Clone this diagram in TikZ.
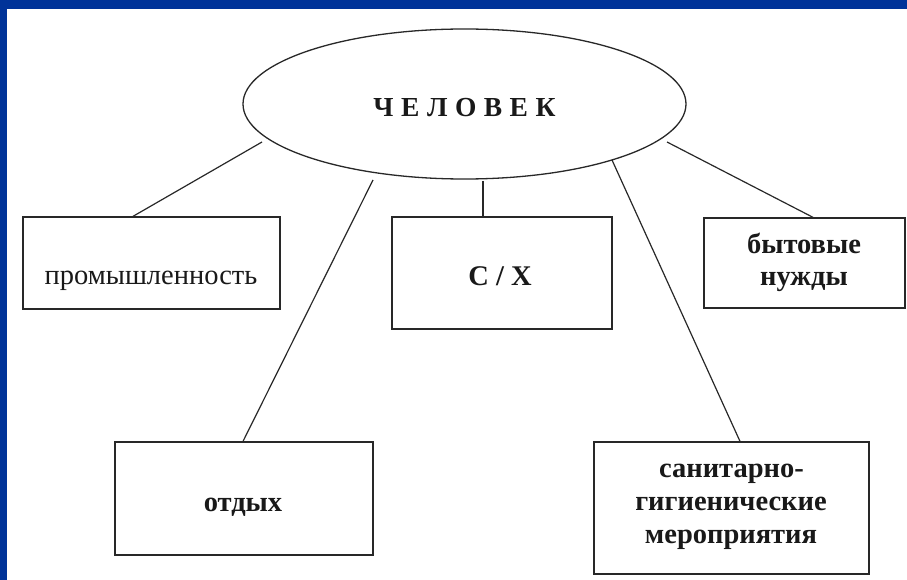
\documentclass[tikz,border=0pt]{standalone}
\usepackage{fontspec}
\setmainfont{Liberation Serif}
\usetikzlibrary{shapes.geometric,calc}
\definecolor{bandblue}{RGB}{0,51,153}
\definecolor{ink}{RGB}{40,40,40}
\tikzset{
  boxnode/.style={draw=ink,line width=1.3pt,rectangle,inner sep=0pt},
  lbl/.style={anchor=base,inner sep=0pt,font=\fontsize{28.5}{33}\selectfont\bfseries,text=black!90},
  lblreg/.style={anchor=base,inner sep=0pt,font=\fontsize{28.5}{33}\selectfont,text=black!90},
  toplbl/.style={anchor=base,inner sep=0pt,font=\fontsize{27.5}{33}\selectfont\bfseries,text=black!90},
  link/.style={draw=ink,line width=1.2pt}
}
\newcommand\lsp{\hspace{7.5pt}}
\begin{document}
\begin{tikzpicture}[x=1pt,y=-1pt]
\fill[white] (0,0) rectangle (907,580);
\fill[bandblue] (0,0) rectangle (907,9);
\fill[bandblue] (0,0) rectangle (7,580);
\useasboundingbox (0,0) rectangle (907,580);

\node[draw=ink,line width=1.3pt,ellipse,inner sep=0pt,minimum width=443pt,minimum height=150pt] (man) at (464.5,104) {};
\node[toplbl] (mant) at (464.5,117) {Ч\lsp Е\lsp Л\lsp О\lsp В\lsp Е\lsp К};

\node[boxnode,minimum width=257pt,minimum height=92pt] (prom) at (151.5,263) {};
\node[lblreg] (promt) at (151,284) {промышленность};

\node[boxnode,minimum width=258pt,minimum height=113pt] (rest) at (244,498.5) {};
\node[lbl] (restt) at (243,511) {отдых};

\node[boxnode,minimum width=220pt,minimum height=112pt] (agr) at (502,273) {};
\node[lbl] (agrt) at (500,285) {С / Х};

\node[boxnode,minimum width=201pt,minimum height=90pt] (home) at (804.5,263) {};
\node[lbl] (homet1) at (804,253) {бытовые};
\node[lbl] (homet2) at (804,285) {нужды};

\node[boxnode,minimum width=275pt,minimum height=132pt] (san) at (731.5,508) {};
\node[lbl] (sant1) at (731.5,477) {санитарно-};
\node[lbl] (sant2) at (731,510) {гигиенические};
\node[lbl] (sant3) at (731,543) {мероприятия};

\coordinate (c1) at (262,142);
\coordinate (c2) at (373,180);
\coordinate (c3) at (483,181);
\coordinate (c4) at (612,160);
\coordinate (c5) at (667,142);

\draw[link] (c1) -- (prom.north -| 133,0);
\draw[link] (c2) -- (rest.north -| 243,0);
\draw[link] (c3) -- (agr.north -| 483,0);
\draw[link] (c4) -- (san.north -| 740,0);
\draw[link] (c5) -- (home.north -| 813,0);
\end{tikzpicture}
\end{document}
